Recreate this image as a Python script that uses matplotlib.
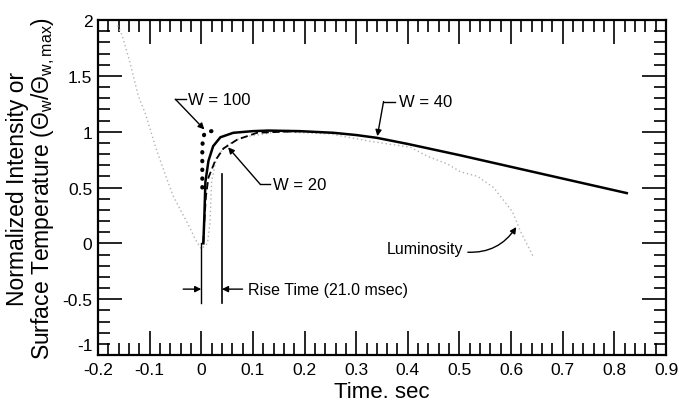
import matplotlib
matplotlib.use("Agg")
import matplotlib.pyplot as plt
import matplotlib.transforms as mtransforms
from matplotlib.ticker import MultipleLocator

plt.rcParams["font.family"] = ["Liberation Sans", "DejaVu Sans"]
plt.rcParams["mathtext.default"] = "regular"
plt.rcParams["axes.unicode_minus"] = False

# surface temperature, W = 40 (solid)
w40_t = [0.004, 0.006, 0.008, 0.014, 0.023, 0.037, 0.062, 0.10, 0.13, 0.19,
         0.256, 0.30, 0.34, 0.40, 0.50, 0.60, 0.70, 0.824]
w40_y = [0.0, 0.24, 0.55, 0.74, 0.87, 0.95, 0.99, 1.005, 1.01, 1.005,
         0.99, 0.97, 0.945, 0.89, 0.79, 0.685, 0.58, 0.45]

# W = 20 (dashed)
w20_t = [0.004, 0.006, 0.009, 0.014, 0.027, 0.043, 0.07, 0.108, 0.16, 0.20]
w20_y = [0.0, 0.2, 0.42, 0.59, 0.74, 0.85, 0.93, 0.99, 1.0, 1.005]

# W = 100 (dotted)
w100_t = [0.002, 0.002, 0.002, 0.003, 0.006, 0.012, 0.02, 0.03]
w100_y = [0.5, 0.7, 0.85, 0.93, 0.98, 1.0, 1.005, 1.005]

# luminosity (light gray)
lum_t = [-0.162, -0.153, -0.138, -0.122, -0.108, -0.089, -0.07, -0.054, -0.021,
         -0.012, 0.0, 0.012, 0.017, 0.02, 0.03, 0.05, 0.08, 0.15, 0.25, 0.32,
         0.405, 0.438, 0.477, 0.502, 0.535, 0.566, 0.603, 0.618, 0.643]
lum_y = [1.95, 1.86, 1.62, 1.32, 1.16, 0.87, 0.62, 0.42, 0.13,
         0.04, -0.05, 0.0, 0.19, 0.55, 0.78, 0.88, 0.95, 1.0, 0.98, 0.92,
         0.86, 0.78, 0.71, 0.64, 0.60, 0.50, 0.28, 0.11, -0.12]

rise_start, rise_end = 0.0, 0.04

fig = plt.figure(figsize=(6.79, 4.02), dpi=100)
ax = fig.add_axes([0.1443, 0.1144, 0.8366, 0.8333])

ax.plot(lum_t, lum_y, color="0.7", lw=1.0, ls=(0, (1, 2)))
ax.plot(w20_t, w20_y, color="k", lw=1.3, ls=(0, (4, 2)))
ax.plot(w40_t, w40_y, color="k", lw=1.8)
ax.plot(w100_t, w100_y, color="k", lw=3.0, ls=(0, (0.1, 2.0)),
        dash_capstyle="round")

# rise time markers
ax.plot([rise_start, rise_start], [-0.53, 0.0], color="k", lw=1.0)
ax.plot([rise_end, rise_end], [-0.53, 0.62], color="k", lw=1.2)
arr = dict(arrowstyle="-|>", color="k", lw=1.0, mutation_scale=9,
           shrinkA=0, shrinkB=0)
ax.annotate("", xy=(rise_start, -0.41), xytext=(-0.035, -0.41), arrowprops=arr)
ax.annotate("", xy=(rise_end, -0.41), xytext=(0.08, -0.41), arrowprops=arr)
ax.text(0.09, -0.41, "Rise Time (21.0 msec)", fontsize=11.5, va="center")

# curve labels
ax.text(-0.025, 1.29, "W = 100", fontsize=12, va="center")
ax.plot([-0.05, -0.03], [1.29, 1.29], color="k", lw=1.0)
ax.annotate("", xy=(0.006, 1.02), xytext=(-0.05, 1.29), arrowprops=arr)

ax.text(0.138, 0.53, "W = 20", fontsize=12, va="center")
ax.plot([0.114, 0.134], [0.53, 0.53], color="k", lw=1.0)
ax.annotate("", xy=(0.052, 0.86), xytext=(0.114, 0.53), arrowprops=arr)

ax.text(0.382, 1.27, "W = 40", fontsize=12, va="center")
ax.plot([0.353, 0.376], [1.27, 1.27], color="k", lw=1.0)
ax.annotate("", xy=(0.341, 0.96), xytext=(0.353, 1.27), arrowprops=arr)

ax.annotate("Luminosity", xy=(0.61, 0.146), xytext=(0.36, -0.05),
            fontsize=11.5, va="center", ha="left",
            arrowprops=dict(arrowstyle="-|>", color="k", lw=1.0,
                            mutation_scale=9, relpos=(1, 0.3),
                            connectionstyle="arc3,rad=0.3",
                            shrinkA=1, shrinkB=0))

ax.set_xlim(-0.2, 0.9)
ax.set_ylim(-1, 2)
ax.xaxis.set_major_locator(MultipleLocator(0.1))
ax.xaxis.set_minor_locator(MultipleLocator(0.02))
ax.yaxis.set_major_locator(MultipleLocator(0.5))
ax.yaxis.set_minor_locator(MultipleLocator(0.1))
ax.set_xticks([-0.2, -0.1, 0, 0.1, 0.2, 0.3, 0.4, 0.5, 0.6, 0.7, 0.8, 0.9])
ax.set_xticklabels(["-0.2", "-0.1", "0", "0.1", "0.2", "0.3", "0.4", "0.5",
                    "0.6", "0.7", "0.8", "0.9"])
ax.set_yticks([-1, -0.5, 0, 0.5, 1, 1.5, 2])
ax.set_yticklabels(["-1", "-0.5", "0", "0.5", "1", "1.5", "2"])
ax.tick_params(which="both", direction="in", top=True, right=True,
               labelsize=12.5, width=1.2)
ax.tick_params(axis="x", pad=5)
ax.tick_params(axis="y", pad=4)
ax.tick_params(which="major", length=17)
ax.tick_params(which="minor", length=8.5)
for s in ax.spines.values():
    s.set_linewidth(1.6)

# lift the "-1" label clear of "-0.2", as in the original
lbl = ax.get_yticklabels()[0]
lbl.set_transform(lbl.get_transform() +
                  mtransforms.ScaledTranslation(0, 8 / 72, fig.dpi_scale_trans))

ax.set_xlabel("Time. sec", fontsize=16, labelpad=3)
ax.set_ylabel("Normalized Intensity or\n"
              r"Surface Temperature ($\Theta_w/\Theta_{w,max}$)",
              fontsize=16.5, labelpad=4, linespacing=1.0)

fig.savefig("out.png", dpi=100)
